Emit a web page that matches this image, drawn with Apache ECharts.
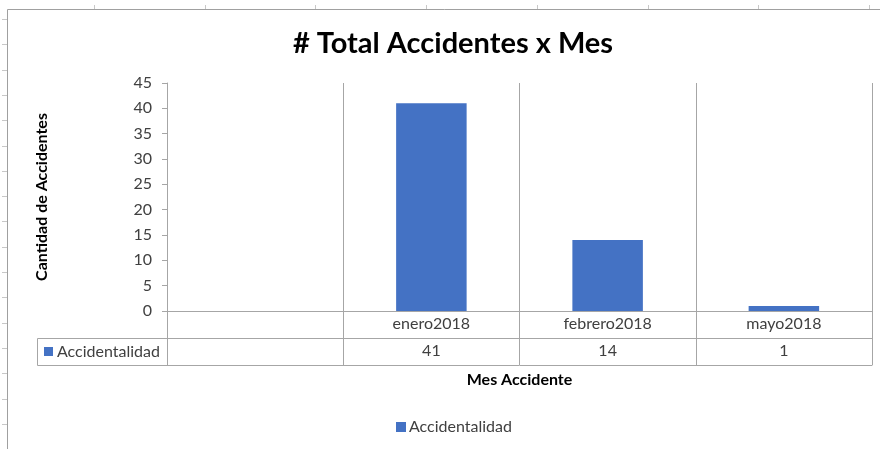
<!DOCTYPE html>
<html>
<head>
<meta charset="utf-8">
<script src="https://cdn.jsdelivr.net/npm/echarts@6/dist/echarts.min.js"></script>
<style>
  html, body { margin: 0; padding: 0; background: #ffffff; }
  #chart { width: 880px; height: 449px; }
</style>
</head>
<body>
<div id="chart"></div>
<script>
// Monthly accident counts (first column of the category axis is left blank)
const months = ['', 'enero2018', 'febrero2018', 'mayo2018'];
const accidents = [null, 41, 14, 1];
const seriesName = 'Accidentalidad';
const yTicks = { min: 0, max: 45, step: 5 };

const FONT = 'Lato, "Noto Sans", sans-serif';
const LINE = '#a6a6a6';
const TEXT = '#404040';
const BAR = '#4472c4';
const FS = 16;

const chart = echarts.init(document.getElementById('chart'), null, { renderer: 'canvas' });

// Faint worksheet gridline stubs around the chart frame
const stubs = [];
for (let x = 94; x < 880; x += 110.7) {
  stubs.push({ type: 'line', shape: { x1: Math.round(x) + 0.5, y1: 5, x2: Math.round(x) + 0.5, y2: 9 }, style: { stroke: '#c8c8c8', lineWidth: 1 }, silent: true });
}
for (let y = 19; y < 449; y += 25.3) {
  stubs.push({ type: 'line', shape: { x1: 2, y1: Math.round(y) + 0.5, x2: 7, y2: Math.round(y) + 0.5 }, style: { stroke: '#c8c8c8', lineWidth: 1 }, silent: true });
}

chart.setOption({
  animation: false,
  backgroundColor: '#ffffff',
  textStyle: { fontFamily: FONT },
  title: {
    text: '# Total Accidentes x Mes',
    left: 448,
    textAlign: 'center',
    top: 24,
    textStyle: { fontFamily: FONT, fontSize: 29, fontWeight: 'bold', color: '#000000' }
  },
  legend: {
    data: [seriesName],
    left: 391,
    top: 414,
    icon: 'rect',
    itemWidth: 10,
    itemHeight: 10,
    itemGap: 4,
    textStyle: { fontFamily: FONT, fontSize: FS, color: TEXT, padding: [0, 0, 0, -2] }
  },
  grid: { left: 167, right: 8, top: 83, bottom: 138, containLabel: false },
  xAxis: [
    {
      // category header row of the data table
      type: 'category',
      data: months,
      position: 'bottom',
      boundaryGap: true,
      axisLine: { show: true, lineStyle: { color: LINE, width: 1 } },
      axisTick: { show: true, interval: 0, length: 54, lineStyle: { color: LINE } },
      splitLine: { show: true, interval: 0, lineStyle: { color: LINE, width: 1 } },
      axisLabel: { interval: 0, margin: 5, fontFamily: FONT, fontSize: FS, color: TEXT }
    },
    {
      // value row of the data table
      type: 'category',
      data: months,
      position: 'bottom',
      offset: 27,
      axisLine: { show: true, lineStyle: { color: LINE, width: 1 } },
      axisTick: { show: false },
      splitLine: { show: false },
      axisLabel: {
        interval: 0, margin: 5, fontFamily: FONT, fontSize: FS, color: TEXT,
        formatter: (v, i) => (accidents[i] == null ? '' : String(accidents[i]))
      }
    },
    {
      // closing line of the data table and axis title
      type: 'category',
      data: months,
      position: 'bottom',
      offset: 54,
      name: 'Mes Accidente',
      nameLocation: 'middle',
      nameGap: 7,
      nameTextStyle: { fontFamily: FONT, fontSize: FS, fontWeight: 'bold', color: '#000000', verticalAlign: 'top' },
      axisLine: { show: true, lineStyle: { color: LINE, width: 1 } },
      axisTick: { show: false },
      axisLabel: { show: false },
      splitLine: { show: false }
    }
  ],
  yAxis: {
    type: 'value',
    min: yTicks.min,
    max: yTicks.max,
    interval: yTicks.step,
    name: 'Cantidad de Accidentes',
    nameLocation: 'middle',
    nameRotate: 90,
    nameGap: 117,
    nameTextStyle: { fontFamily: FONT, fontSize: FS, fontWeight: 'bold', color: '#000000' },
    axisLine: { show: true, lineStyle: { color: LINE, width: 1 } },
    axisTick: { show: true, length: 5, lineStyle: { color: LINE } },
    splitLine: { show: false },
    axisLabel: { margin: 15, fontFamily: FONT, fontSize: FS, color: TEXT }
  },
  series: [
    {
      name: seriesName,
      type: 'bar',
      xAxisIndex: 0,
      data: accidents,
      barWidth: '40%',
      itemStyle: { color: BAR }
    }
  ],
  graphic: [
    // chart frame
    { type: 'rect', shape: { x: 7.5, y: 9.5, width: 900, height: 500 }, style: { fill: 'none', stroke: '#a0a0a0', lineWidth: 1 }, silent: true, z: -1 },
    ...stubs,
    // legend-key cell of the data table
    { type: 'rect', shape: { x: 37.5, y: 338.5, width: 130, height: 27 }, style: { fill: 'none', stroke: LINE, lineWidth: 1 }, silent: true },
    { type: 'rect', shape: { x: 44, y: 347, width: 9, height: 9 }, style: { fill: BAR }, silent: true },
    { type: 'text', x: 57, y: 352, style: { text: seriesName, fontFamily: FONT, fontSize: FS, fill: TEXT, textVerticalAlign: 'middle' }, silent: true }
  ]
});
</script>
</body>
</html>
